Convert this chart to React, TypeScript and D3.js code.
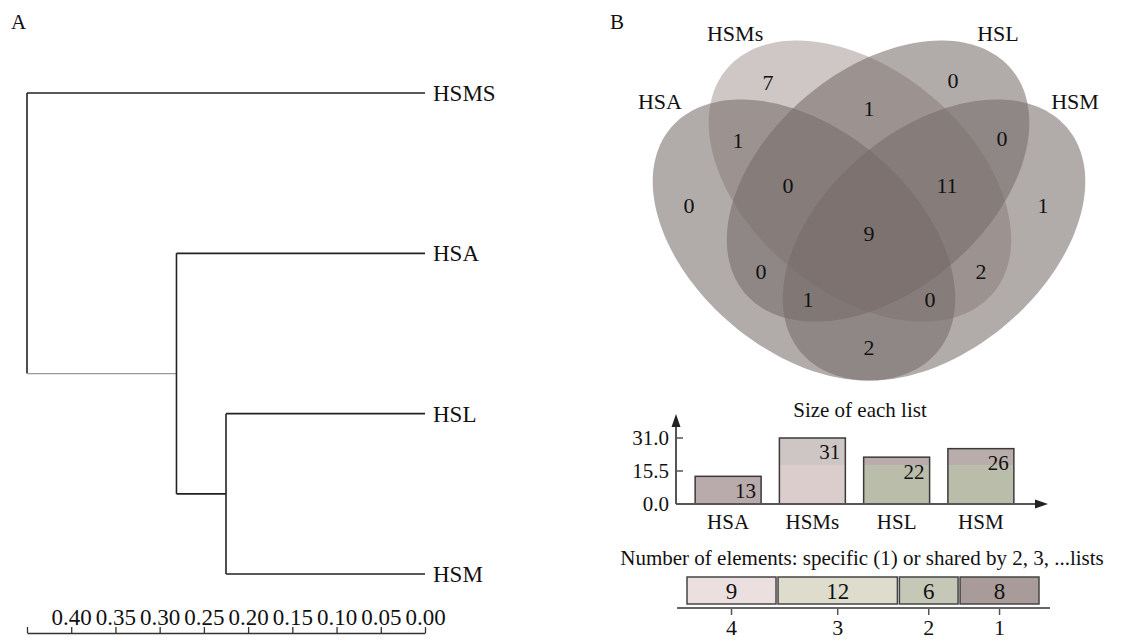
import * as d3 from "d3";
import { useRef, useEffect } from "react";

const W = 1145;
const H = 641;
const FONT = "'Liberation Serif', 'Times New Roman', serif";

// dendrogram (A)
const dendroLeaves = ["HSMS", "HSA", "HSL", "HSM"]; // top to bottom
const dendroJoinHeights = [0.45, 0.281, 0.225]; // leaf i joins the cluster below it
const dendroTicks = [0.45, 0.4, 0.35, 0.3, 0.25, 0.2, 0.15, 0.1, 0.05, 0.0];

// venn (B)
const vennSets = ["HSA", "HSMs", "HSL", "HSM"];
const vennRegions = ["A", "B", "C", "D", "AB", "BC", "CD", "AC", "BD", "AD", "ABC", "BCD", "ACD", "ABD", "ABCD"];
const vennCounts = [0, 7, 0, 1, 1, 1, 0, 0, 2, 2, 0, 11, 1, 0, 9];

// size of each list
const listNames = ["HSA", "HSMs", "HSL", "HSM"];
const listSizes = [13, 31, 22, 26];
const listTicks = [0, 15.5, 31];

// specific / shared
const sharedBy = [4, 3, 2, 1];
const sharedCounts = [9, 12, 6, 8];

// ---- layout & style (not data) ----
const ELLIPSES: Record<string, { cx: number; cy: number; a: number; b: number; rot: number; fill: string }> = {
  HSMs: { cx: -0.042, cy: -0.134, a: 0.806, b: 0.514, rot: 40, fill: "#a99d9b" },
  HSL: { cx: 0.042, cy: -0.134, a: 0.806, b: 0.514, rot: -40, fill: "#766c69" },
  HSA: { cx: -0.301, cy: 0.139, a: 0.806, b: 0.514, rot: 40, fill: "#766c69" },
  HSM: { cx: 0.301, cy: 0.139, a: 0.806, b: 0.514, rot: -40, fill: "#766c69" },
};
const SET_LABEL_POS: Record<string, [number, number]> = {
  HSMs: [-0.62, -0.819],
  HSL: [0.597, -0.819],
  HSA: [-0.968, -0.505],
  HSM: [0.954, -0.505],
};
const REGION_POS: Record<string, [number, number]> = {
  A: [-0.833, -0.023],
  B: [-0.468, -0.593],
  C: [0.389, -0.602],
  D: [0.806, -0.023],
  AB: [-0.606, -0.324],
  BC: [0, -0.472],
  CD: [0.616, -0.333],
  AC: [-0.5, 0.282],
  BD: [0.519, 0.282],
  AD: [0, 0.634],
  ABC: [-0.375, -0.116],
  BCD: [0.361, -0.116],
  ACD: [-0.282, 0.412],
  ABD: [0.282, 0.412],
  ABCD: [0, 0.106],
};
const BAR_SPLIT = 18.3;
const BAR_COLORS = [
  { top: "#b9abab", bottom: "#b9abab" },
  { top: "#cec6c5", bottom: "#dccdcd" },
  { top: "#b8adaa", bottom: "#babdaa" },
  { top: "#b8adaa", bottom: "#babdaa" },
];
const SEG_COLORS = ["#ecdfdf", "#dddccd", "#c5c7b7", "#a89b9a"];

type DNode = { name?: string; height: number; children?: DNode[] };

function buildTree(i: number): DNode {
  if (i === dendroLeaves.length - 1) return { name: dendroLeaves[i], height: 0 };
  return { height: dendroJoinHeights[i], children: [{ name: dendroLeaves[i], height: 0 }, buildTree(i + 1)] };
}

export default function App() {
  const svgRef = useRef<SVGSVGElement>(null);

  useEffect(() => {
    const svg = d3.select(svgRef.current);
    svg.selectAll("*").remove();
    svg.append("rect").attr("width", W).attr("height", H).attr("fill", "#fff");

    // ===== Panel A: dendrogram =====
    svg.append("text").attr("x", 11).attr("y", 29).attr("font-size", 21).text("A");

    const dx = d3.scaleLinear().domain([0.45, 0]).range([27, 425]);
    const dy = d3.scalePoint<string>().domain(dendroLeaves).range([93, 574]);

    const root = d3.hierarchy<DNode>(buildTree(0));
    const yOf = new Map<d3.HierarchyNode<DNode>, number>();
    root.eachAfter((n) => {
      if (!n.children) yOf.set(n, dy(n.data.name!)!);
      else yOf.set(n, d3.mean(n.children, (c) => yOf.get(c)!)!);
    });

    const gA = svg.append("g");
    root.each((n) => {
      if (!n.children) return;
      const x = dx(n.data.height);
      const ys = n.children.map((c) => yOf.get(c)!);
      gA.append("line")
        .attr("x1", x).attr("x2", x)
        .attr("y1", d3.min(ys)!).attr("y2", d3.max(ys)!)
        .attr("stroke", "#222").attr("stroke-width", 1.6);
      n.children.forEach((c) => {
        gA.append("line")
          .attr("x1", x).attr("x2", dx(c.data.height))
          .attr("y1", yOf.get(c)!).attr("y2", yOf.get(c)!)
          .attr("stroke", n.depth === 0 && c.children ? "#9a9a9a" : "#222")
          .attr("stroke-width", n.depth === 0 && c.children ? 1.2 : 1.6);
      });
    });
    root.leaves().forEach((l) => {
      gA.append("text")
        .attr("x", dx(0) + 8)
        .attr("y", yOf.get(l)!)
        .attr("dy", "0.35em")
        .attr("font-size", 23)
        .text(l.data.name!);
    });

    const axA = svg.append("g").attr("transform", "translate(0,633)")
      .call(
        d3.axisTop(dx)
          .tickValues(dendroTicks)
          .tickSize(6)
          .tickSizeOuter(0)
          .tickPadding(2)
          .tickFormat((d) => (+d === 0.45 ? "" : d3.format(".2f")(+d)))
      );
    axA.selectAll("path, line").attr("stroke", "#333").attr("stroke-width", 1.3);
    axA.selectAll("text").attr("font-size", 23).attr("font-family", FONT).attr("fill", "#111");

    // ===== Panel B: venn =====
    svg.append("text").attr("x", 610).attr("y", 29).attr("font-size", 21).text("B");

    const vx = d3.scaleLinear().domain([-1, 1]).range([653, 1085]);
    const vy = d3.scaleLinear().domain([-1, 1]).range([-6, 426]);
    const line = d3.line().curve(d3.curveLinearClosed);

    const drawOrder = ["HSMs", "HSL", "HSA", "HSM"];
    drawOrder.forEach((name) => {
      const e = ELLIPSES[name];
      const th = (e.rot * Math.PI) / 180;
      const pts = d3.range(0, 360, 2).map((deg) => {
        const t = (deg * Math.PI) / 180;
        const ux = e.cx + e.a * Math.cos(t) * Math.cos(th) - e.b * Math.sin(t) * Math.sin(th);
        const uy = e.cy + e.a * Math.cos(t) * Math.sin(th) + e.b * Math.sin(t) * Math.cos(th);
        return [vx(ux), vy(uy)] as [number, number];
      });
      svg.append("path").attr("d", line(pts)).attr("fill", e.fill).attr("fill-opacity", 0.57);
    });

    vennSets.forEach((s) => {
      const p = SET_LABEL_POS[s];
      svg.append("text")
        .attr("x", vx(p[0])).attr("y", vy(p[1]))
        .attr("dy", "0.35em").attr("text-anchor", "middle")
        .attr("font-size", 22).text(s);
    });
    vennRegions.forEach((r, i) => {
      const p = REGION_POS[r];
      svg.append("text")
        .attr("x", vx(p[0])).attr("y", vy(p[1]))
        .attr("dy", "0.35em").attr("text-anchor", "middle")
        .attr("font-size", 22).attr("fill", "#111").text(vennCounts[i]);
    });

    // ===== Size of each list =====
    const by = d3.scaleLinear().domain([0, 31]).range([504, 438]);
    const bx = d3.scaleBand<string>().domain(listNames).range([686, 1023]).paddingInner(0.217).paddingOuter(0.1085);
    const gB = svg.append("g");

    gB.append("text").attr("x", 860).attr("y", 410).attr("dy", "0.35em")
      .attr("text-anchor", "middle").attr("font-size", 21).text("Size of each list");

    listNames.forEach((n, i) => {
      const x0 = bx(n)!;
      const w = bx.bandwidth();
      const v = listSizes[i];
      const split = Math.min(v, BAR_SPLIT);
      gB.append("rect").attr("x", x0).attr("width", w)
        .attr("y", by(split)).attr("height", by(0) - by(split)).attr("fill", BAR_COLORS[i].bottom);
      if (v > BAR_SPLIT) {
        gB.append("rect").attr("x", x0).attr("width", w)
          .attr("y", by(v)).attr("height", by(BAR_SPLIT) - by(v)).attr("fill", BAR_COLORS[i].top);
      }
      gB.append("rect").attr("x", x0).attr("width", w)
        .attr("y", by(v)).attr("height", by(0) - by(v))
        .attr("fill", "none").attr("stroke", "#3a3a3a").attr("stroke-width", 1.5);
      gB.append("text").attr("x", x0 + w - 5).attr("y", by(v) + 14).attr("dy", "0.35em")
        .attr("text-anchor", "end").attr("font-size", 21).text(v);
      gB.append("text").attr("x", x0 + w / 2).attr("y", 522).attr("dy", "0.35em")
        .attr("text-anchor", "middle").attr("font-size", 21).text(n);
    });

    const axX = 676;
    gB.append("line").attr("x1", axX).attr("x2", axX).attr("y1", by(0)).attr("y2", 420)
      .attr("stroke", "#555").attr("stroke-width", 2);
    gB.append("path").attr("d", `M${axX},414 L${axX - 4.5},427 L${axX + 4.5},427 Z`).attr("fill", "#222");
    gB.append("line").attr("x1", axX).attr("x2", 1042).attr("y1", by(0)).attr("y2", by(0))
      .attr("stroke", "#555").attr("stroke-width", 2);
    gB.append("path").attr("d", `M1048,${by(0)} L1035,${by(0) - 4.5} L1035,${by(0) + 4.5} Z`).attr("fill", "#222");
    listTicks.forEach((t) => {
      if (t > 0) {
        gB.append("line").attr("x1", axX).attr("x2", axX + 7).attr("y1", by(t)).attr("y2", by(t))
          .attr("stroke", "#555").attr("stroke-width", 1.5);
      }
      gB.append("text").attr("x", 669).attr("y", by(t)).attr("dy", "0.35em")
        .attr("text-anchor", "end").attr("font-size", 21).text(d3.format(".1f")(t));
    });

    // ===== Specific / shared =====
    const gS = svg.append("g");
    gS.append("text").attr("x", 862).attr("y", 558).attr("dy", "0.35em")
      .attr("text-anchor", "middle").attr("font-size", 21)
      .text("Number of elements: specific (1) or shared by 2, 3, ...lists");

    const sx = d3.scaleLinear().domain([0, d3.sum(sharedCounts)]).range([686, 1040]);
    let cum = 0;
    sharedCounts.forEach((c, i) => {
      const x0 = sx(cum) + 1;
      const x1 = sx(cum + c) - 1;
      cum += c;
      gS.append("rect").attr("x", x0).attr("y", 577).attr("width", x1 - x0).attr("height", 27)
        .attr("fill", SEG_COLORS[i]).attr("stroke", "#444").attr("stroke-width", 1.5);
      gS.append("text").attr("x", (x0 + x1) / 2).attr("y", 590.5).attr("dy", "0.35em")
        .attr("text-anchor", "middle").attr("font-size", 23).text(c);
      gS.append("line").attr("x1", (x0 + x1) / 2).attr("x2", (x0 + x1) / 2).attr("y1", 608).attr("y2", 615)
        .attr("stroke", "#555").attr("stroke-width", 1.5);
      gS.append("text").attr("x", (x0 + x1) / 2).attr("y", 627).attr("dy", "0.35em")
        .attr("text-anchor", "middle").attr("font-size", 22).text(sharedBy[i]);
    });
    gS.append("line").attr("x1", 677).attr("x2", 1050).attr("y1", 608).attr("y2", 608)
      .attr("stroke", "#666").attr("stroke-width", 2);
  }, []);

  return (
    <svg
      ref={svgRef}
      width={W}
      height={H}
      style={{ position: "absolute", left: 0, top: 0, fontFamily: FONT, fill: "#111" }}
    />
  );
}
